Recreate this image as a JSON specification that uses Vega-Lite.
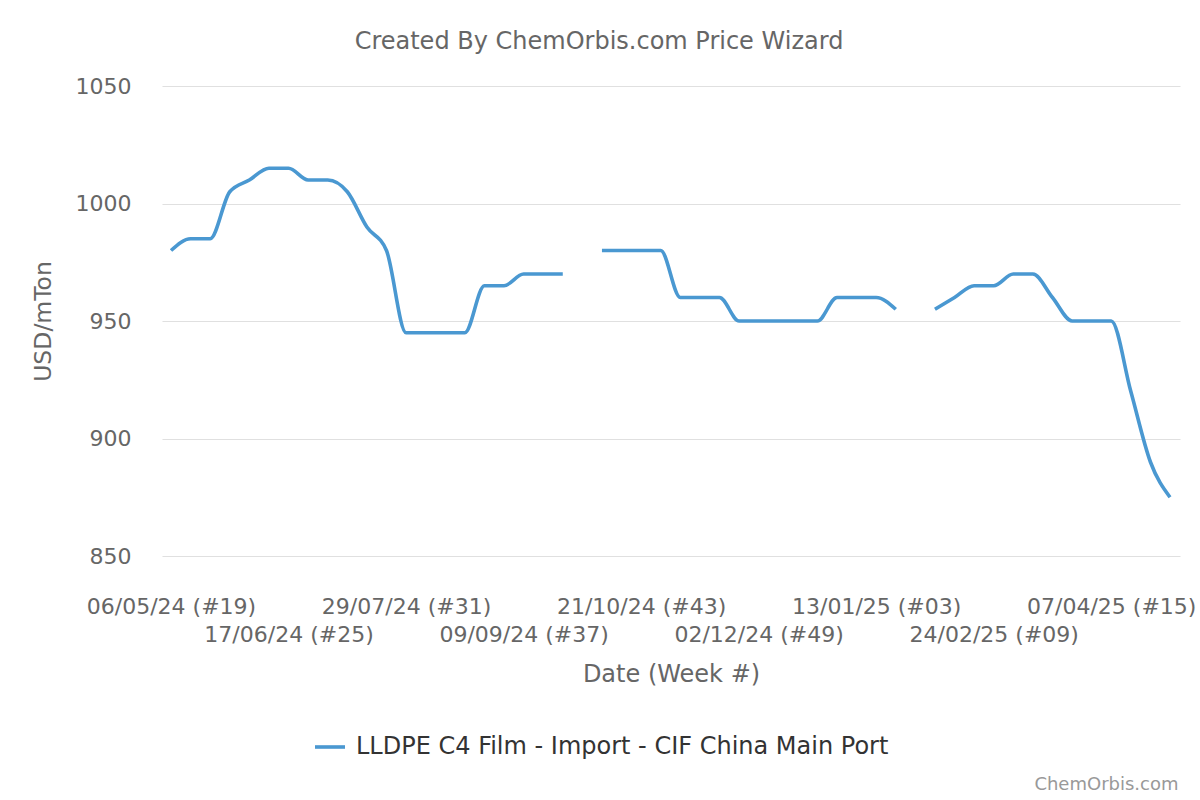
{
  "$schema": "https://vega.github.io/schema/vega-lite/v6.json",
  "width": 1018,
  "height": 470,
  "autosize": {"type": "none"},
  "padding": {"left": 162, "top": 86, "right": 20, "bottom": 244},
  "background": "white",
  "config": {"font": "DejaVu Sans", "view": {"stroke": null}},
  "title": {
    "text": "Created By ChemOrbis.com Price Wizard",
    "fontSize": 24,
    "fontWeight": "normal",
    "color": "#666666",
    "anchor": "middle",
    "frame": "group",
    "dx": -72,
    "offset": 21
  },
  "data": {
    "values": [
      {"date": "2024-05-06", "price": 980},
      {"date": "2024-05-13", "price": 985},
      {"date": "2024-05-20", "price": 985},
      {"date": "2024-05-27", "price": 1005},
      {"date": "2024-06-03", "price": 1010},
      {"date": "2024-06-10", "price": 1015},
      {"date": "2024-06-17", "price": 1015},
      {"date": "2024-06-24", "price": 1010},
      {"date": "2024-07-01", "price": 1010},
      {"date": "2024-07-08", "price": 1005},
      {"date": "2024-07-15", "price": 990},
      {"date": "2024-07-22", "price": 980},
      {"date": "2024-07-29", "price": 945},
      {"date": "2024-08-05", "price": 945},
      {"date": "2024-08-12", "price": 945},
      {"date": "2024-08-19", "price": 945},
      {"date": "2024-08-26", "price": 965},
      {"date": "2024-09-02", "price": 965},
      {"date": "2024-09-09", "price": 970},
      {"date": "2024-09-16", "price": 970},
      {"date": "2024-09-23", "price": 970},
      {"date": "2024-09-30", "price": null},
      {"date": "2024-10-07", "price": 980},
      {"date": "2024-10-14", "price": 980},
      {"date": "2024-10-21", "price": 980},
      {"date": "2024-10-28", "price": 980},
      {"date": "2024-11-04", "price": 960},
      {"date": "2024-11-11", "price": 960},
      {"date": "2024-11-18", "price": 960},
      {"date": "2024-11-25", "price": 950},
      {"date": "2024-12-02", "price": 950},
      {"date": "2024-12-09", "price": 950},
      {"date": "2024-12-16", "price": 950},
      {"date": "2024-12-23", "price": 950},
      {"date": "2024-12-30", "price": 960},
      {"date": "2025-01-06", "price": 960},
      {"date": "2025-01-13", "price": 960},
      {"date": "2025-01-20", "price": 955},
      {"date": "2025-01-27", "price": null},
      {"date": "2025-02-03", "price": 955},
      {"date": "2025-02-10", "price": 960},
      {"date": "2025-02-17", "price": 965},
      {"date": "2025-02-24", "price": 965},
      {"date": "2025-03-03", "price": 970},
      {"date": "2025-03-10", "price": 970},
      {"date": "2025-03-17", "price": 960},
      {"date": "2025-03-24", "price": 950},
      {"date": "2025-03-31", "price": 950},
      {"date": "2025-04-07", "price": 950},
      {"date": "2025-04-14", "price": 920},
      {"date": "2025-04-21", "price": 890},
      {"date": "2025-04-28", "price": 875}
    ]
  },
  "layer": [
    {
      "mark": {
        "type": "line",
        "interpolate": "monotone",
        "strokeWidth": 3.6,
        "invalid": "break-paths-show-domains"
      },
      "encoding": {
        "x": {
          "field": "date",
          "type": "temporal",
          "scale": {"type": "utc", "domain": [1714675392000, 1746106848000]},
          "axis": {
            "title": "Date (Week #)",
            "values": [1714953600000, 1718582400000, 1722211200000, 1725840000000, 1729468800000, 1733097600000, 1736726400000, 1740355200000, 1743984000000],
            "labelExpr": "round((datum.value - 1714953600000) / 3628800000) % 2 == 0 ? utcFormat(datum.value, '%d/%m/%y (#%V)') : ['', utcFormat(datum.value, '%d/%m/%y (#%V)')]",
            "labelOverlap": false,
            "labelFlush": false,
            "labelFontSize": 22,
            "labelColor": "#666666",
            "labelBaseline": "top",
            "labelLineHeight": 28,
            "labelPadding": 40,
            "domain": false,
            "ticks": false,
            "grid": false,
            "titleFontSize": 24,
            "titleFontWeight": "normal",
            "titleColor": "#666666",
            "titlePadding": 17
          }
        },
        "y": {
          "field": "price",
          "type": "quantitative",
          "scale": {"domain": [850, 1050], "nice": false, "zero": false},
          "axis": {
            "title": "USD/mTon",
            "values": [850, 900, 950, 1000, 1050],
            "format": "d",
            "domain": false,
            "ticks": false,
            "grid": true,
            "gridColor": "#e0e0e0",
            "gridWidth": 1.2,
            "labelFontSize": 22,
            "labelColor": "#666666",
            "labelPadding": 31,
            "titleFontSize": 23.5,
            "titleFontWeight": "normal",
            "titleColor": "#666666",
            "titlePadding": 20
          }
        },
        "color": {
          "datum": "LLDPE C4 Film - Import - CIF China Main Port",
          "scale": {"range": ["#4a98d1"]},
          "legend": {
            "orient": "none",
            "legendX": 151,
            "legendY": 644,
            "title": null,
            "padding": 0,
            "labelFontSize": 24,
            "labelColor": "#333333",
            "labelLimit": 0,
            "labelOffset": 9,
            "symbolType": "stroke",
            "symbolSize": 900,
            "symbolStrokeWidth": 3.6
          }
        }
      }
    },
    {
      "mark": {"type": "rule", "opacity": 0},
      "encoding": {
        "x": {
          "field": "date",
          "type": "temporal",
          "axis": {
            "orient": "bottom",
            "title": "ChemOrbis.com",
            "titleAnchor": "end",
            "titleFontSize": 18,
            "titleFontWeight": "normal",
            "titleColor": "#999999",
            "titleX": 1016,
            "labels": false,
            "ticks": false,
            "domain": false,
            "grid": false,
            "offset": 211,
            "titlePadding": 8
          }
        }
      }
    }
  ],
  "resolve": {"axis": {"x": "independent"}}
}
